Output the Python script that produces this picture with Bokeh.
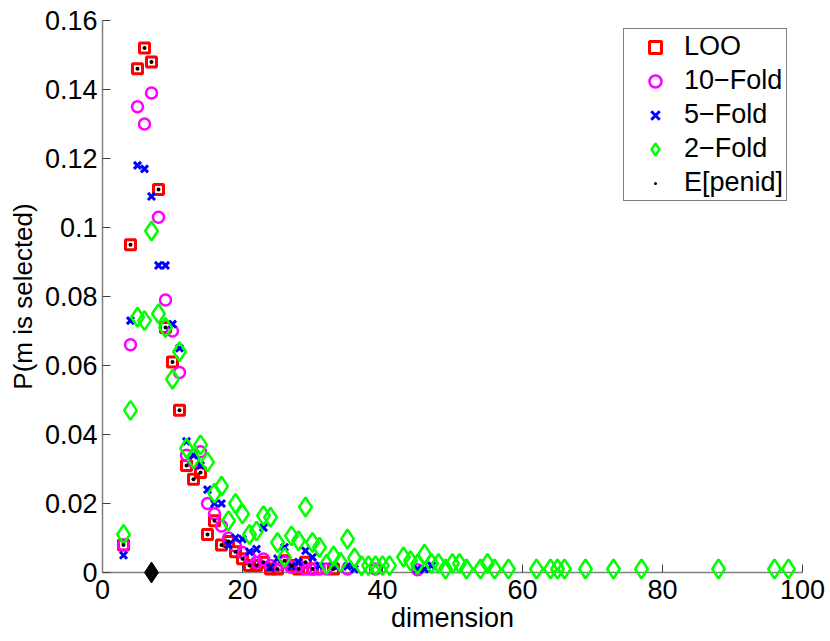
from bokeh.plotting import figure
from bokeh.models import Range1d, FixedTicker, Legend, LegendItem
from bokeh.embed import file_html
from bokeh.resources import INLINE

# ---- data ----
loo_x = [3, 4, 5, 6, 7, 8, 9, 10, 11, 12, 13, 14, 15, 16, 17, 18, 19, 20, 21, 22, 23, 24, 25, 26, 27, 28, 29, 30, 33]
loo_y = [0.008, 0.095, 0.146, 0.152, 0.148, 0.111, 0.071, 0.061, 0.047, 0.031, 0.027, 0.029, 0.011, 0.015, 0.008,
         0.009, 0.006, 0.004, 0.002, 0.002, 0.003, 0.001, 0.001, 0.0034, 0.002, 0.001, 0.003, 0.001, 0.001]

f10_x = [3, 4, 5, 6, 7, 8, 9, 10, 11, 12, 13, 14, 15, 16, 17, 18, 19, 20, 21, 22, 23, 24, 25, 26, 27, 28, 29, 30, 31, 32, 35, 39, 45]
f10_y = [0.008, 0.066, 0.135, 0.130, 0.139, 0.103, 0.079, 0.070, 0.058, 0.034, 0.032, 0.035, 0.020, 0.017, 0.0135,
         0.010, 0.0077, 0.0058, 0.0044, 0.003, 0.0039, 0.002, 0.002, 0.003, 0.0015, 0.002, 0.001, 0.001, 0.001, 0.001,
         0.001, 0.001, 0.0008]

f5_x = [3, 4, 5, 6, 7, 8, 9, 10, 11, 12, 13, 14, 15, 16, 17, 18, 19, 20, 21, 22, 23, 24, 25, 26, 27, 28, 29, 30, 31, 33, 35, 36, 45, 46, 47]
f5_y = [0.005, 0.073, 0.118, 0.117, 0.109, 0.089, 0.089, 0.072, 0.065, 0.038, 0.034, 0.031, 0.024, 0.020, 0.020,
        0.008, 0.010, 0.0097, 0.006, 0.0068, 0.013, 0.0015, 0.004, 0.0073, 0.0018, 0.003, 0.0063, 0.0044, 0.002,
        0.002, 0.0018, 0.001, 0.001, 0.001, 0.002]

f2_x = [3, 4, 5, 6, 7, 8, 9, 10, 11, 12, 13, 14, 15, 16, 17, 18, 19, 20, 21, 22, 23, 24, 25, 26, 27, 28, 29, 30,
        31, 32, 33, 34, 35, 36, 37, 38, 39, 40, 41, 43, 44, 45, 46, 47, 48, 49, 50, 51, 52, 54, 55, 56, 58, 62,
        64, 65, 66, 69, 73, 77, 88, 96, 98]
f2_y = [0.011, 0.047, 0.074, 0.073, 0.099, 0.075, 0.071, 0.056, 0.064, 0.036, 0.033, 0.037, 0.032, 0.023, 0.025,
        0.015, 0.020, 0.017, 0.011, 0.012, 0.0165, 0.016, 0.0087, 0.0044, 0.0106, 0.0092, 0.019, 0.0087,
        0.0073, 0.0024, 0.0048, 0.003, 0.0097, 0.0042, 0.002, 0.002, 0.002, 0.002, 0.002, 0.0045, 0.0034,
        0.0024, 0.0053, 0.0026, 0.0026, 0.001, 0.0026, 0.0026, 0.001, 0.001, 0.0026, 0.001, 0.001, 0.001,
        0.001, 0.001, 0.001, 0.001, 0.001, 0.001, 0.001, 0.001, 0.001]

penid_x = [3, 4, 5, 6, 7, 8, 9, 10, 11, 12, 13, 14, 15, 16, 17, 18, 19, 20, 21, 22, 23, 24, 25, 26, 27, 28, 29, 30, 33]
penid_y = [0.008, 0.095, 0.146, 0.152, 0.148, 0.111, 0.071, 0.061, 0.047, 0.031, 0.027, 0.029, 0.011, 0.015, 0.008,
           0.009, 0.006, 0.004, 0.002, 0.002, 0.003, 0.001, 0.001, 0.0034, 0.002, 0.001, 0.003, 0.001, 0.001]

true_x = [7]
true_y = [0.0]

x_ticks = [0, 20, 40, 60, 80, 100]
y_ticks = [0, 0.02, 0.04, 0.06, 0.08, 0.1, 0.12, 0.14, 0.16]
y_tick_labels = ["0", "0.02", "0.04", "0.06", "0.08", "0.1", "0.12", "0.14", "0.16"]

FONT = "Liberation Sans"
FS = "27px"

p = figure(frame_width=700, frame_height=552, output_backend="svg", toolbar_location=None,
           x_range=Range1d(0, 100), y_range=Range1d(0, 0.16),
           min_border_left=102, min_border_top=20, min_border_right=26, min_border_bottom=60)
p.outline_line_color = None
p.xgrid.visible = False
p.ygrid.visible = False
p.background_fill_color = "white"
p.border_fill_color = "white"

for ax in (p.xaxis[0], p.yaxis[0]):
    ax.major_label_text_font = FONT
    ax.major_label_text_font_size = FS
    ax.major_label_text_color = "black"
    ax.axis_label_text_font = FONT
    ax.axis_label_text_font_size = FS
    ax.axis_label_text_font_style = "normal"
    ax.axis_label_text_color = "black"
    ax.axis_line_color = "#808080"
    ax.axis_line_width = 1.5
    ax.major_tick_line_color = "#404040"
    ax.major_tick_in = 8
    ax.major_tick_out = 0
    ax.minor_tick_line_color = None

p.yaxis.axis_label_text_font_size = "26px"
p.xaxis.ticker = FixedTicker(ticks=x_ticks)
p.yaxis.ticker = FixedTicker(ticks=y_ticks)
p.yaxis.major_label_overrides = {t: l for t, l in zip(y_ticks, y_tick_labels)}
p.xaxis.axis_label = "dimension"
p.yaxis.axis_label = "P(m is selected)"
p.xaxis.major_label_standoff = 7
p.yaxis.major_label_standoff = 5
p.xaxis.axis_label_standoff = 1
p.yaxis.axis_label_standoff = 4

r_loo = p.scatter(loo_x, loo_y, marker="square", size=10, fill_color=None, line_color="#ff0000", line_width=3, level="overlay")
r_10 = p.scatter(f10_x, f10_y, marker="circle", size=11, fill_color=None, line_color="#ff00ff", line_width=2.5, level="overlay")
r_5 = p.scatter(f5_x, f5_y, marker="x", size=10, line_color="#0000ff", line_width=3, level="overlay")
r_2 = p.scatter(f2_x, f2_y, marker="diamond", size=19, fill_color=None, line_color="#00ff00", line_width=2.5, level="overlay")
r_pen = p.scatter(penid_x, penid_y, marker="dot", size=16, fill_color="black", line_color="black", level="overlay")
p.scatter(true_x, true_y, marker="diamond", size=21, fill_color="black", line_color="black", level="overlay")

legend = Legend(items=[
    LegendItem(label="LOO", renderers=[r_loo]),
    LegendItem(label="10\u2212Fold", renderers=[r_10]),
    LegendItem(label="5\u2212Fold", renderers=[r_5]),
    LegendItem(label="2\u2212Fold", renderers=[r_2]),
    LegendItem(label="E[penid]", renderers=[r_pen]),
])
legend.label_text_font = FONT
legend.label_text_font_size = FS
legend.label_text_color = "black"
legend.padding = 2
legend.spacing = 3
legend.glyph_height = 30
legend.label_height = 30
legend.glyph_width = 58
legend.label_standoff = 0
legend.label_width = 100
legend.border_line_color = "black"
legend.border_line_width = 1.2
legend.background_fill_color = "white"
legend.background_fill_alpha = 1.0
legend.margin = 0
legend.location = (521, 371)
p.add_layout(legend)

open("out.html", "w").write(file_html(p, INLINE))
